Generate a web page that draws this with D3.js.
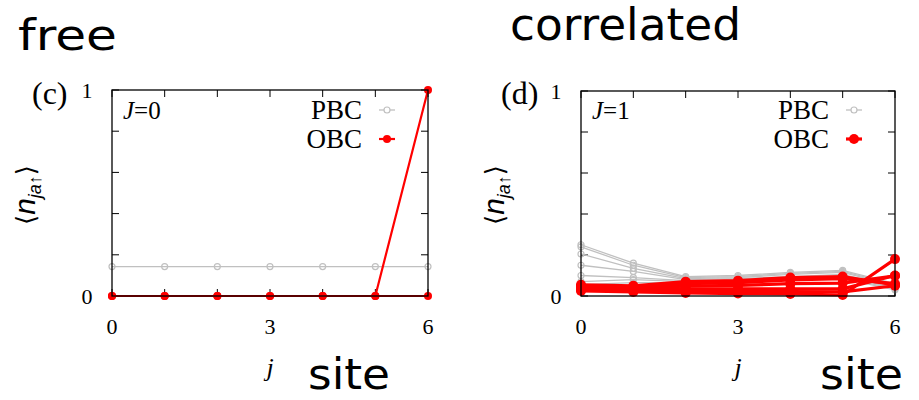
<!DOCTYPE html>
<html><head><meta charset="utf-8">
<script src="https://cdn.jsdelivr.net/npm/d3@7"></script>
<style>body{margin:0;background:#fff}svg{display:block}</style>
</head><body>
<svg id="c" width="919" height="400"></svg>
<script>
// ---- data ----
const sites = [0, 1, 2, 3, 4, 5, 6];
const xTickLabels = [0, 3, 6];
const yTickLabels = [0, 1];
const yTickMarks = [0, 0.2, 0.4, 0.6, 0.8, 1];
const panelTags = ["(c)", "(d)"];
const couplingLabels = ["0", "1"];
const headerWords = ["free", "correlated"];
const axisWord = "site";

// J=0 (free)
const freePBC = [
  [0.143, 0.143, 0.143, 0.143, 0.143, 0.143, 0.143]
];
const freeOBC = [
  [0, 0, 0, 0, 0, 0, 0],
  [0, 0, 0, 0, 0, 0, 1]
];
// J=1 (correlated)
const corrPBC = [
  [0.250, 0.160, 0.095, 0.100, 0.115, 0.125, 0.060],
  [0.240, 0.150, 0.090, 0.095, 0.110, 0.120, 0.055],
  [0.205, 0.135, 0.085, 0.090, 0.105, 0.115, 0.050],
  [0.150, 0.120, 0.080, 0.085, 0.095, 0.105, 0.045],
  [0.100, 0.090, 0.075, 0.080, 0.090, 0.095, 0.040],
  [0.070, 0.080, 0.070, 0.075, 0.085, 0.090, 0.035],
  [0.055, 0.065, 0.065, 0.070, 0.080, 0.085, 0.030]
];
const corrOBC = [
  [0.055, 0.050, 0.070, 0.075, 0.090, 0.095, 0.054],
  [0.048, 0.045, 0.060, 0.065, 0.078, 0.085, 0.060],
  [0.042, 0.040, 0.048, 0.052, 0.060, 0.063, 0.098],
  [0.036, 0.035, 0.035, 0.035, 0.035, 0.035, 0.100],
  [0.030, 0.028, 0.025, 0.022, 0.022, 0.020, 0.050],
  [0.025, 0.020, 0.015, 0.012, 0.010, 0.005, 0.180]
];

const svg = d3.select("#c");
const serif = "'Liberation Serif','Times New Roman',serif";
const sans = "'Liberation Sans',Arial,sans-serif";
const comic = "'Comic Sans MS','DejaVu Sans',sans-serif";
const RED = "#ff0000", GRAY = "#c0c0c0";

const panels = [
  {x0: 112, x1: 428, y0: 296, y1: 90, pbc: freePBC, obc: freeOBC, tag: panelTags[0], J: couplingLabels[0], lw: 2.2, r: 4},
  {x0: 581, x1: 895, y0: 296, y1: 91, pbc: corrPBC, obc: corrOBC, tag: panelTags[1], J: couplingLabels[1], lw: 3.2, r: 5}
];

panels.forEach(p => {
  const x = d3.scaleLinear().domain([0, 6]).range([p.x0, p.x1]);
  const y = d3.scaleLinear().domain([0, 1]).range([p.y0, p.y1]);
  const g = svg.append("g");
  const line = d3.line().x((d, i) => x(sites[i])).y(d => y(d));

  // tick marks (inward, mirrored)
  const tl = 7;
  yTickMarks.forEach(v => {
    g.append("line").attr("x1", p.x0).attr("x2", p.x0 + tl).attr("y1", y(v)).attr("y2", y(v)).attr("stroke", "#000");
    g.append("line").attr("x1", p.x1).attr("x2", p.x1 - tl).attr("y1", y(v)).attr("y2", y(v)).attr("stroke", "#000");
  });
  sites.forEach(v => {
    g.append("line").attr("x1", x(v)).attr("x2", x(v)).attr("y1", p.y1).attr("y2", p.y1 + tl).attr("stroke", "#000");
    g.append("line").attr("x1", x(v)).attr("x2", x(v)).attr("y1", p.y0).attr("y2", p.y0 - tl).attr("stroke", "#000");
  });

  // PBC series
  p.pbc.forEach(s => {
    g.append("path").attr("d", line(s)).attr("fill", "none").attr("stroke", GRAY).attr("stroke-width", 1.3);
    s.forEach((v, i) => g.append("circle").attr("cx", x(sites[i])).attr("cy", y(v)).attr("r", 3)
      .attr("fill", "none").attr("stroke", GRAY).attr("stroke-width", 1.2));
  });
  // OBC series
  p.obc.forEach(s => {
    g.append("path").attr("d", line(s)).attr("fill", "none").attr("stroke", RED).attr("stroke-width", p.lw);
    s.forEach((v, i) => g.append("circle").attr("cx", x(sites[i])).attr("cy", y(v)).attr("r", p.r).attr("fill", RED));
  });

  // frame
  g.append("rect").attr("x", p.x0).attr("y", p.y1).attr("width", p.x1 - p.x0).attr("height", p.y0 - p.y1)
    .attr("fill", "none").attr("stroke", "#000").attr("stroke-width", 1.3);

  // tick labels
  xTickLabels.forEach(v => g.append("text").attr("x", x(v)).attr("y", 334).attr("text-anchor", "middle")
    .attr("font-family", serif).attr("font-size", 22).text(v));
  yTickLabels.forEach(v => g.append("text").attr("x", p.x0 - 25).attr("y", y(v) + 8).attr("text-anchor", "middle")
    .attr("font-family", serif).attr("font-size", 22).text(v));

  // panel tag
  g.append("text").attr("x", p.x0 - 80).attr("y", 104).attr("font-family", serif).attr("font-size", 32).text(p.tag);

  // J label
  const jt = g.append("text").attr("x", p.x0 + 11).attr("y", 119).attr("font-family", serif).attr("font-size", 25);
  jt.append("tspan").attr("font-style", "italic").text("J");
  jt.append("tspan").text("=" + p.J);

  // legend
  const lx = p.x1 - 41;
  [["PBC", 110, "pbc"], ["OBC", 139, "obc"]].forEach(([lab, ly, k]) => {
    g.append("text").attr("x", p.x1 - 66).attr("y", ly + 9).attr("text-anchor", "end")
      .attr("font-family", serif).attr("font-size", 27).text(lab);
    if (k === "pbc") {
      g.append("line").attr("x1", lx - 8).attr("x2", lx + 8).attr("y1", ly).attr("y2", ly).attr("stroke", GRAY).attr("stroke-width", 1.3);
      g.append("circle").attr("cx", lx).attr("cy", ly).attr("r", 3).attr("fill", "#fff").attr("stroke", GRAY).attr("stroke-width", 1.2);
    } else {
      g.append("line").attr("x1", lx - 8).attr("x2", lx + 8).attr("y1", ly).attr("y2", ly).attr("stroke", RED).attr("stroke-width", p.lw);
      g.append("circle").attr("cx", lx).attr("cy", ly).attr("r", p.r).attr("fill", RED);
    }
  });

  // x-axis label j
  g.append("text").attr("x", x(3)).attr("y", 376).attr("text-anchor", "middle")
    .attr("font-family", serif).attr("font-style", "italic").attr("font-size", 26).text("j");

  // y-axis label <n_ja↑>
  const yl = g.append("text").attr("transform", `translate(${p.x0 - 77},195) rotate(-90)`)
    .attr("text-anchor", "middle").attr("font-family", sans);
  yl.append("tspan").attr("font-family", "'DejaVu Sans',sans-serif").attr("font-size", 26).text("\u27E8");
  yl.append("tspan").attr("font-style", "italic").attr("font-size", 30).text("n");
  yl.append("tspan").attr("font-style", "italic").attr("font-size", 18).attr("dy", 6).text("ja");
  yl.append("tspan").attr("font-size", 18).text("\u2191");
  yl.append("tspan").attr("font-family", "'DejaVu Sans',sans-serif").attr("font-size", 26).attr("dy", -6).text("\u27E9");
});

// handwritten-style annotations
svg.append("text").attr("x", 18).attr("y", 50).attr("font-family", comic).attr("font-size", 42)
  .attr("textLength", 99).attr("lengthAdjust", "spacingAndGlyphs").text(headerWords[0]);
svg.append("text").attr("x", 510).attr("y", 40).attr("font-family", comic).attr("font-size", 44)
  .attr("textLength", 231).attr("lengthAdjust", "spacingAndGlyphs").text(headerWords[1]);
svg.append("text").attr("x", 308).attr("y", 389).attr("font-family", comic).attr("font-size", 42)
  .attr("textLength", 82).attr("lengthAdjust", "spacingAndGlyphs").text(axisWord);
svg.append("text").attr("x", 820).attr("y", 389).attr("font-family", comic).attr("font-size", 42)
  .attr("textLength", 83).attr("lengthAdjust", "spacingAndGlyphs").text(axisWord);
</script>
</body></html>
